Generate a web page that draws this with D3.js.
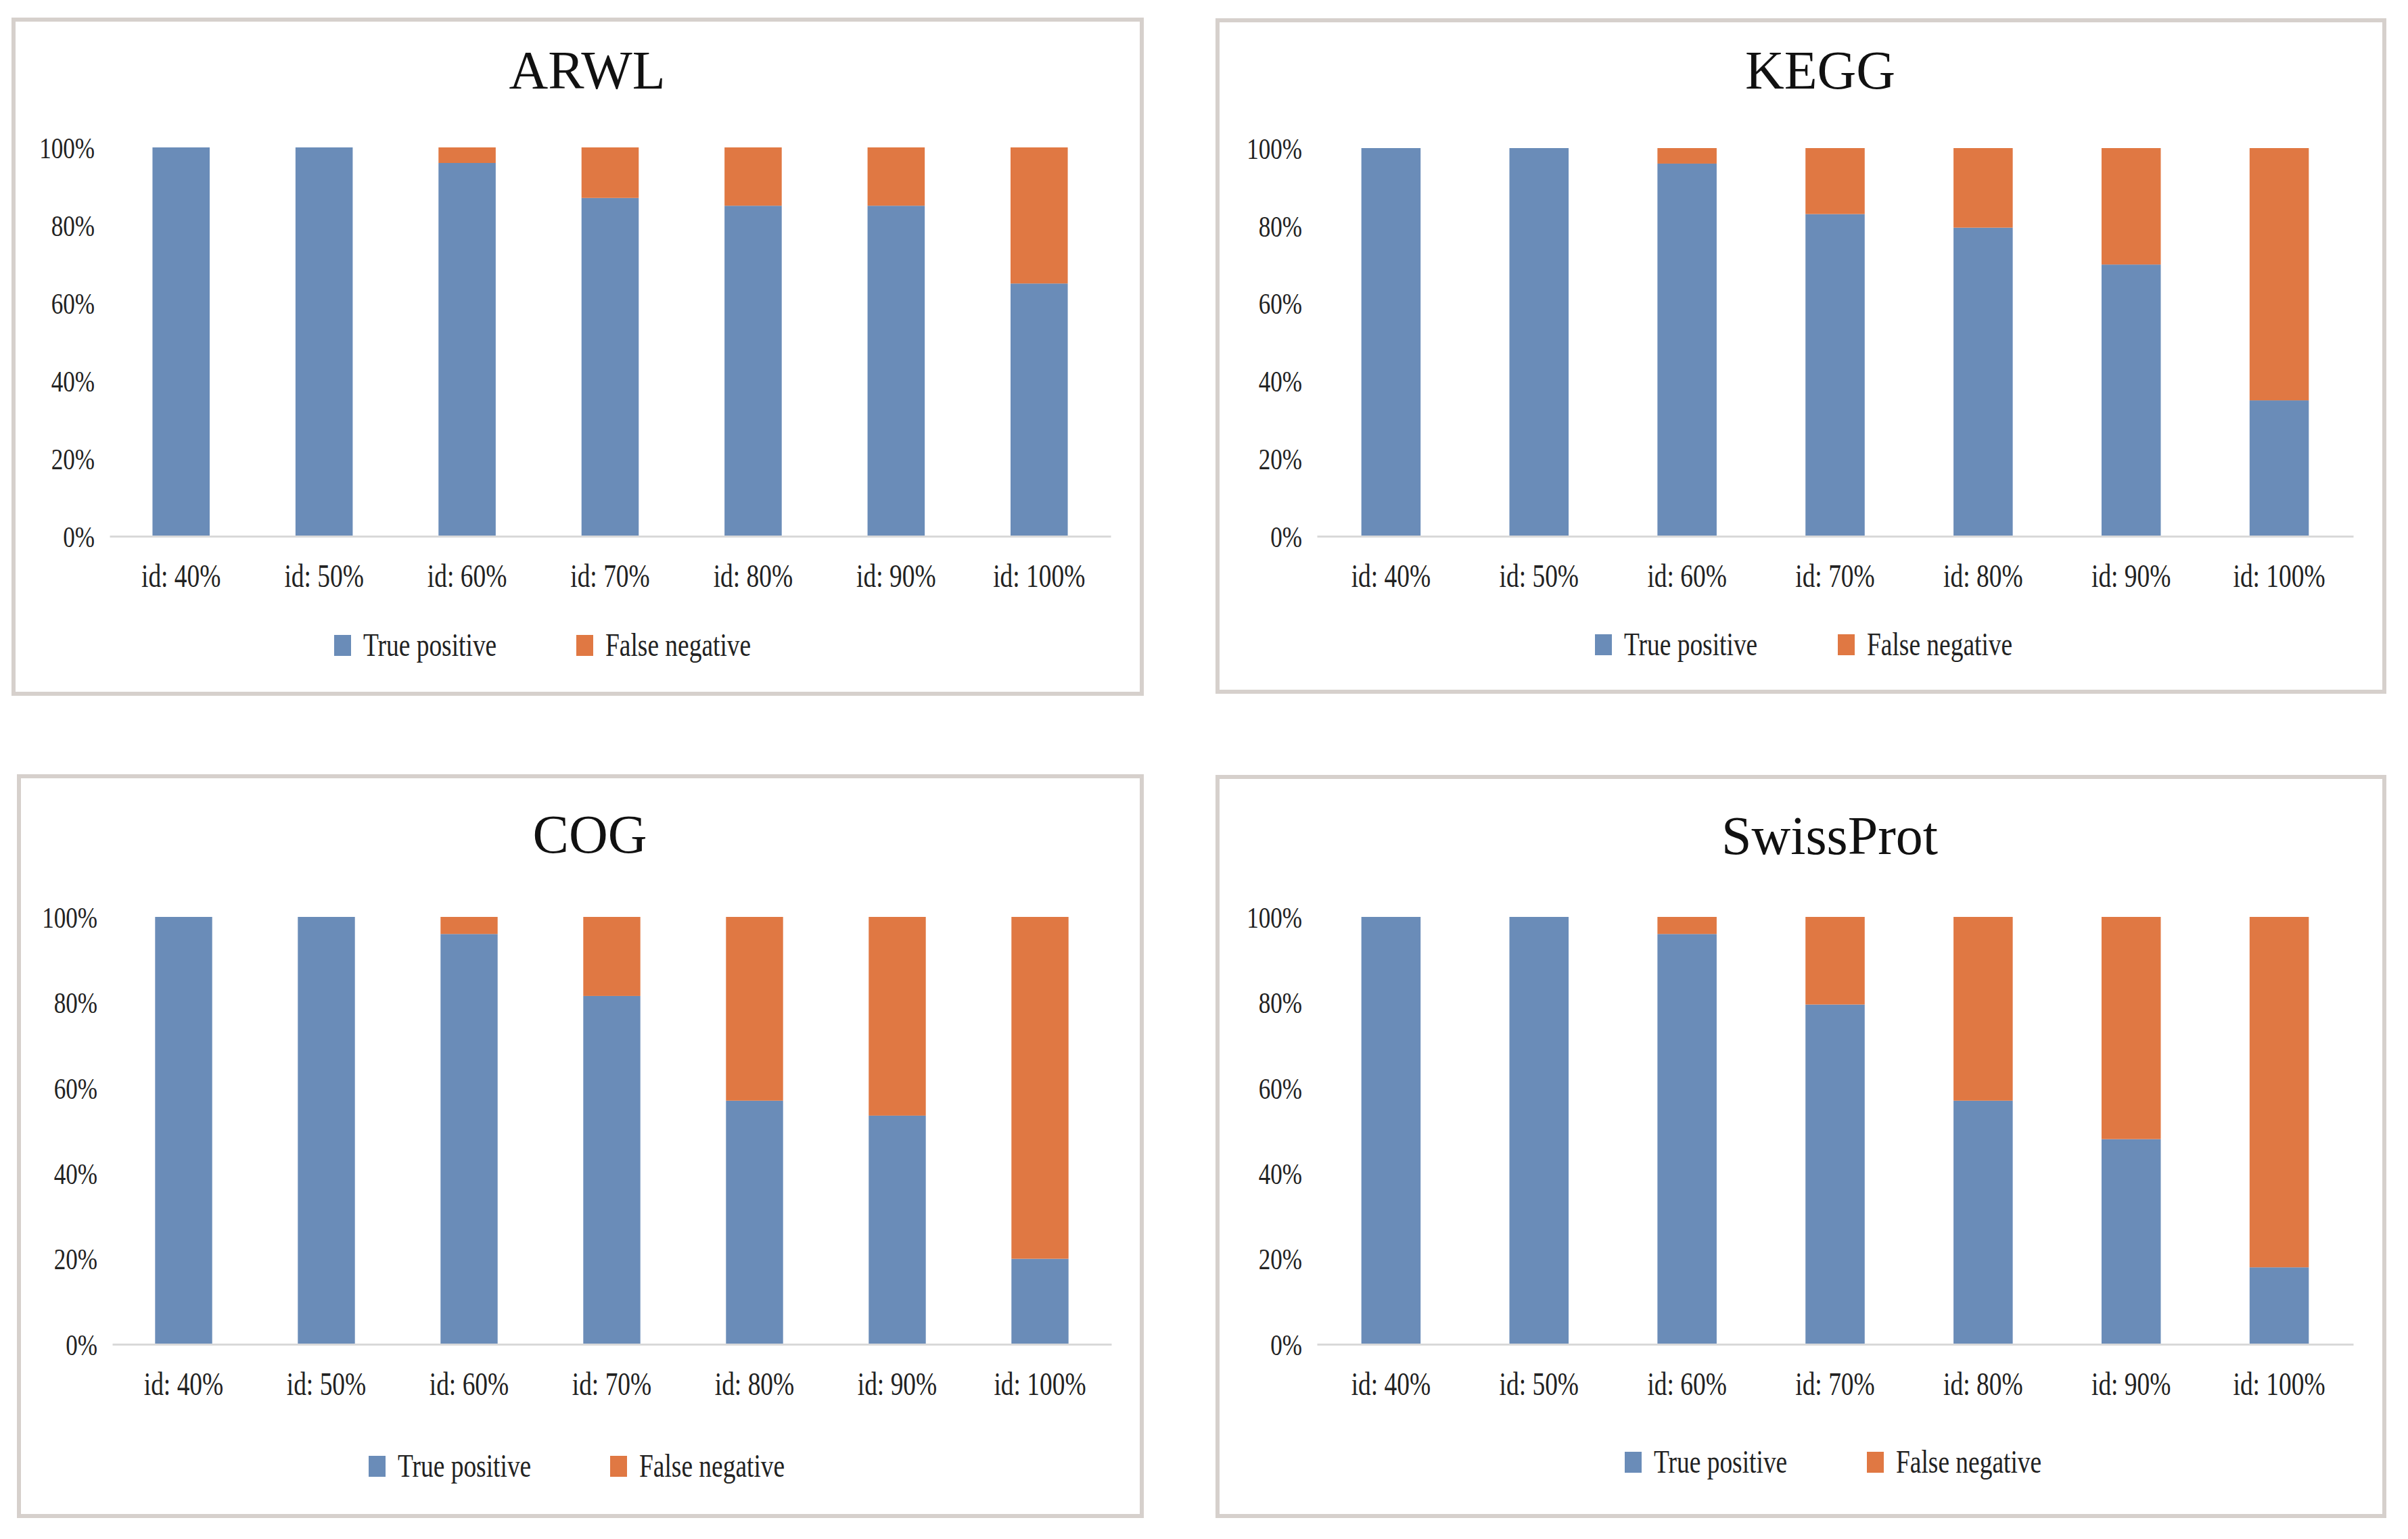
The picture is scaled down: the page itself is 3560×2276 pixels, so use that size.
<!DOCTYPE html>
<html>
<head>
<meta charset="utf-8">
<script src="https://cdn.jsdelivr.net/npm/d3@7"></script>
<style>
	html, body { margin: 0; padding: 0; background: #fff; }
	svg { display: block; }
</style>
</head>
<body>
<div id="chart"></div>
<script>
// Data
const categories = ['id: 40%', 'id: 50%', 'id: 60%', 'id: 70%', 'id: 80%', 'id: 90%', 'id: 100%'];
const seriesNames = ['True positive', 'False negative'];
const yTicks = [0, 20, 40, 60, 80, 100];

const arwlTruePositive = [100, 100, 96, 87, 85, 85, 65];
const arwlFalseNegative = [0, 0, 4, 13, 15, 15, 35];

const keggTruePositive = [100, 100, 96, 83, 79.5, 70, 35];
const keggFalseNegative = [0, 0, 4, 17, 20.5, 30, 65];

const cogTruePositive = [100, 100, 96, 81.5, 57, 53.5, 20];
const cogFalseNegative = [0, 0, 4, 18.5, 43, 46.5, 80];

const swissTruePositive = [100, 100, 96, 79.5, 57, 48, 18];
const swissFalseNegative = [0, 0, 4, 20.5, 43, 52, 82];

const colors = ['#6a8cb8', '#e07843'];

// Panel layout (pixels)
const panels = [
	{ title: 'ARWL', tp: arwlTruePositive, fn: arwlFalseNegative, box: [20, 29, 1688, 1026], titleX: 868, titleY: 131, x0: 162, x1: 1642, y0: 218, y1: 793, legendX: [494, 852], legendY: 970 },
	{ title: 'KEGG', tp: keggTruePositive, fn: keggFalseNegative, box: [1800, 30, 3525, 1023], titleX: 2691, titleY: 131, x0: 1947, x1: 3479, y0: 219, y1: 793, legendX: [2358, 2717], legendY: 969 },
	{ title: 'COG', tp: cogTruePositive, fn: cogFalseNegative, box: [28, 1148, 1688, 2242], titleX: 872, titleY: 1261, x0: 166, x1: 1643, y0: 1356, y1: 1988, legendX: [545, 902], legendY: 2184 },
	{ title: 'SwissProt', tp: swissTruePositive, fn: swissFalseNegative, box: [1800, 1149, 3525, 2242], titleX: 2705, titleY: 1263, x0: 1947, x1: 3479, y0: 1356, y1: 1988, legendX: [2402, 2760], legendY: 2178 },
];

const FONT = '"Liberation Serif", "Times New Roman", serif';
const SQUEEZE = 0.78; // the source text is horizontally condensed

const width = 3560;
const height = 2276;

const svg = d3.select('#chart').append('svg').attr('width', width).attr('height', height);
svg.append('rect').attr('width', width).attr('height', height).attr('fill', '#fff');

function drawPanel(p) {
	const g = svg.append('g').attr('class', 'panel');

	// Frame
	g.append('rect')
		.attr('x', p.box[0])
		.attr('y', p.box[1])
		.attr('width', p.box[2] - p.box[0])
		.attr('height', p.box[3] - p.box[1])
		.attr('fill', '#fff')
		.attr('stroke', '#d6d0cc')
		.attr('stroke-width', 6);

	// Title
	g.append('text')
		.attr('x', p.titleX)
		.attr('y', p.titleY)
		.attr('text-anchor', 'middle')
		.attr('font-family', FONT)
		.attr('font-size', 80)
		.attr('fill', '#111')
		.text(p.title);

	const rows = categories.map((c, i) => ({ category: c, tp: p.tp[i], fn: p.fn[i] }));
	const stacked = d3.stack().keys(['tp', 'fn'])(rows);

	const x = d3.scaleBand().domain(categories).range([p.x0, p.x1]).paddingInner(0.6).paddingOuter(0.3);
	const y = d3.scaleLinear().domain([0, 100]).range([p.y1, p.y0]);

	// Y axis (labels only)
	const yAxis = g.append('g')
		.attr('transform', `translate(${p.x0},0)`)
		.call(d3.axisLeft(y).tickValues(yTicks).tickFormat((d) => d + '%').tickSize(0));
	yAxis.select('.domain').remove();
	yAxis.selectAll('text')
		.attr('font-family', FONT)
		.attr('font-size', 45)
		.attr('fill', '#222')
		.attr('x', -22 / SQUEEZE)
		.attr('dy', '0.34em')
		.attr('transform', `scale(${SQUEEZE},1)`);

	// Bars
	g.append('g')
		.selectAll('g')
		.data(stacked)
		.enter()
		.append('g')
		.attr('fill', (d, i) => colors[i])
		.selectAll('rect')
		.data((d) => d)
		.enter()
		.append('rect')
		.attr('x', (d) => x(d.data.category))
		.attr('y', (d) => y(d[1]))
		.attr('width', x.bandwidth())
		.attr('height', (d) => y(d[0]) - y(d[1]));

	// X axis
	const xAxis = g.append('g')
		.attr('transform', `translate(0,${p.y1})`)
		.call(d3.axisBottom(x).tickSize(0).tickSizeOuter(0));
	xAxis.select('.domain').attr('stroke', '#d9d9d9').attr('stroke-width', 3);
	xAxis.selectAll('text')
		.attr('font-family', FONT)
		.attr('font-size', 48)
		.attr('fill', '#222')
		.attr('y', 75)
		.attr('dy', 0)
		.attr('transform', `scale(${SQUEEZE},1)`);

	// Legend
	const legend = g.append('g').attr('class', 'legend');
	seriesNames.forEach((name, i) => {
		const lx = p.legendX[i];
		legend.append('rect')
			.attr('x', lx)
			.attr('y', p.legendY - 31)
			.attr('width', 25)
			.attr('height', 31)
			.attr('fill', colors[i]);
		legend.append('text')
			.attr('transform', `translate(${lx + 43},${p.legendY}) scale(${SQUEEZE},1)`)
			.attr('font-family', FONT)
			.attr('font-size', 48)
			.attr('fill', '#222')
			.text(name);
	});
}

panels.forEach(drawPanel);
</script>
</body>
</html>
